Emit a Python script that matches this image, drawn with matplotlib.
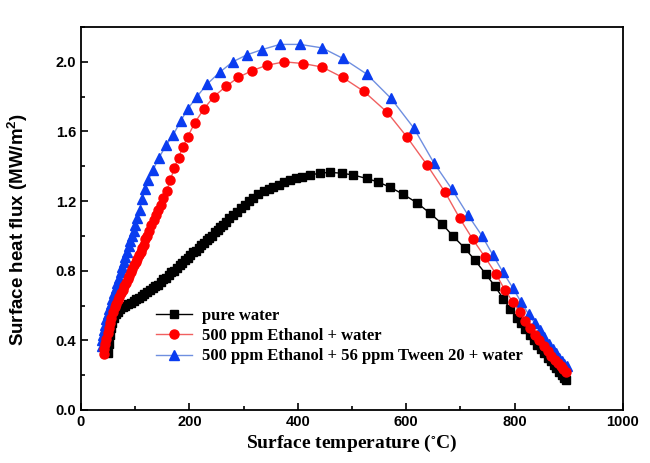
import matplotlib
matplotlib.use("Agg")
import matplotlib.pyplot as plt
from matplotlib.ticker import MultipleLocator

plt.rcParams['mathtext.fontset'] = 'custom'
plt.rcParams['mathtext.rm'] = 'Liberation Sans:bold'
plt.rcParams['mathtext.default'] = 'regular'

# pure water
water_t = [50, 52, 54, 56, 58, 61, 64, 68, 72, 77, 82, 87, 92, 97, 102, 107, 112, 117, 122, 127,
           132, 137, 142, 147, 152, 157, 162, 167, 172, 177, 182, 187, 192, 197, 202, 207, 212, 217,
           222, 227, 232, 237, 242, 247, 252, 257, 262, 268, 274, 281, 288, 295, 302, 310, 318, 327,
           337, 346, 355, 365, 375, 386, 397, 408, 422, 441, 459, 481, 502, 527, 548, 570, 594, 620,
           644, 666, 686, 708, 727, 747, 764, 779, 792, 804, 812, 820, 828, 835, 842, 849, 855, 861,
           867, 872, 877, 882, 887, 891, 895]
water_q = [0.33, 0.38, 0.43, 0.47, 0.50, 0.53, 0.55, 0.565, 0.58, 0.59, 0.60, 0.61, 0.615, 0.625,
           0.635, 0.645, 0.655, 0.665, 0.675, 0.69, 0.70, 0.71, 0.72, 0.735, 0.75, 0.76, 0.775, 0.79,
           0.80, 0.815, 0.83, 0.845, 0.86, 0.875, 0.89, 0.905, 0.915, 0.93, 0.945, 0.96, 0.975, 0.99,
           1.00, 1.02, 1.035, 1.05, 1.065, 1.08, 1.10, 1.12, 1.14, 1.16, 1.18, 1.20, 1.22, 1.24,
           1.26, 1.27, 1.28, 1.295, 1.31, 1.32, 1.33, 1.34, 1.35, 1.36, 1.365, 1.36, 1.35, 1.33,
           1.31, 1.28, 1.24, 1.19, 1.13, 1.07, 1.00, 0.93, 0.86, 0.78, 0.71, 0.64, 0.58, 0.53, 0.50,
           0.465, 0.43, 0.40, 0.375, 0.35, 0.325, 0.30, 0.28, 0.26, 0.24, 0.22, 0.20, 0.185, 0.17]

# 500 ppm ethanol + water
eth_t = [42, 43, 45, 47, 49, 51, 53, 56, 59, 62, 65, 68, 71, 74, 77, 80, 83, 86, 89, 92, 95, 98,
         101, 104, 107, 110, 113, 116, 119, 122, 126, 130, 134, 138, 142, 147, 152, 158, 165, 172,
         180, 188, 197, 210, 227, 245, 268, 290, 316, 343, 375, 410, 445, 483, 522, 565, 601, 638,
         672, 699, 723, 745, 766, 782, 797, 810, 820, 829, 838, 846, 854, 861, 868, 874, 880, 885,
         890, 895]
eth_q = [0.32, 0.35, 0.38, 0.41, 0.44, 0.47, 0.50, 0.53, 0.56, 0.59, 0.61, 0.63, 0.65, 0.67, 0.69,
         0.71, 0.73, 0.75, 0.77, 0.79, 0.81, 0.83, 0.85, 0.87, 0.89, 0.91, 0.93, 0.95, 0.98, 1.00,
         1.03, 1.06, 1.09, 1.12, 1.15, 1.18, 1.22, 1.26, 1.32, 1.39, 1.45, 1.51, 1.57, 1.65, 1.73,
         1.80, 1.86, 1.91, 1.95, 1.98, 2.00, 1.99, 1.97, 1.91, 1.83, 1.71, 1.57, 1.41, 1.25, 1.10,
         0.98, 0.88, 0.78, 0.69, 0.62, 0.56, 0.51, 0.47, 0.43, 0.40, 0.37, 0.34, 0.31, 0.29, 0.27,
         0.25, 0.235, 0.22]

# 500 ppm ethanol + 56 ppm Tween 20 + water
tween_t = [38, 39, 41, 43, 45, 47, 49, 52, 55, 58, 61, 64, 67, 70, 73, 76, 79, 82, 85, 88, 91, 94,
           97, 100, 104, 108, 113, 118, 124, 133, 144, 157, 170, 184, 197, 214, 232, 256, 280, 306,
           334, 367, 404, 445, 483, 527, 572, 614, 651, 684, 714, 740, 760, 779, 797, 812, 826, 837,
           847, 855, 863, 870, 876, 882, 887, 892, 897]
tween_q = [0.37, 0.40, 0.43, 0.46, 0.49, 0.52, 0.55, 0.58, 0.61, 0.64, 0.67, 0.70, 0.73, 0.76, 0.79,
           0.82, 0.85, 0.88, 0.91, 0.94, 0.97, 1.00, 1.03, 1.06, 1.10, 1.15, 1.21, 1.27, 1.32, 1.38,
           1.45, 1.52, 1.58, 1.66, 1.73, 1.80, 1.87, 1.94, 2.00, 2.04, 2.07, 2.10, 2.10, 2.08, 2.02,
           1.93, 1.79, 1.62, 1.42, 1.27, 1.12, 1.00, 0.89, 0.79, 0.70, 0.62, 0.55, 0.50, 0.46, 0.42,
           0.38, 0.35, 0.33, 0.30, 0.28, 0.265, 0.25]

labels = ['pure water', '500 ppm Ethanol + water', '500 ppm Ethanol + 56 ppm Tween 20 + water']

fig = plt.figure(figsize=(6.5, 4.63), dpi=100)
ax = fig.add_axes([0.1246, 0.1145, 0.8338, 0.8272])

ax.plot(water_t, water_q, color='black', lw=1, marker='s', ms=5.2, mec='black', label=labels[0],
        zorder=2)
ax.plot(eth_t, eth_q, color='#f06060', lw=1, marker='o', ms=6.5, mfc='#ff0000', mec='#ff0000',
        label=labels[1], zorder=3)
ax.plot(tween_t, tween_q, color='#6f8fe0', lw=1, marker='^', ms=7, mfc='#0a3cf0', mec='#0a3cf0',
        label=labels[2], zorder=2.5)

ax.set_xlim(0, 1000)
ax.set_ylim(0, 2.2)
ax.xaxis.set_major_locator(MultipleLocator(200))
ax.xaxis.set_minor_locator(MultipleLocator(100))
ax.yaxis.set_major_locator(MultipleLocator(0.4))
ax.yaxis.set_minor_locator(MultipleLocator(0.2))
ax.tick_params(which='both', direction='in', width=1.2)
ax.tick_params(which='major', length=5)
ax.tick_params(which='minor', length=3)
ax.yaxis.set_major_formatter(plt.FuncFormatter(lambda v, p: f'{v:.1f}'))
for lab in ax.get_xticklabels() + ax.get_yticklabels():
    lab.set_fontfamily('Liberation Sans')
    lab.set_fontweight('bold')
    lab.set_fontsize(10.5)
for sp in ax.spines.values():
    sp.set_linewidth(1.3)

ax.set_xlabel('Surface temperature ($^{\\circ}$C)', family='Liberation Serif', weight='bold',
              fontsize=14, labelpad=3)
ax.set_ylabel('Surface heat flux (MW/m$^2$)', family='Liberation Sans', weight='bold',
              fontsize=13.5, labelpad=10)
ax.yaxis.set_label_coords(-0.095, 0.47)

ax.legend(loc='lower left', bbox_to_anchor=(0.11, 0.08), frameon=False, handlelength=2.2,
          labelspacing=0.25, handletextpad=0.6,
          prop={'family': 'Liberation Serif', 'weight': 'bold', 'size': 12})

fig.savefig('out.png', dpi=100)
